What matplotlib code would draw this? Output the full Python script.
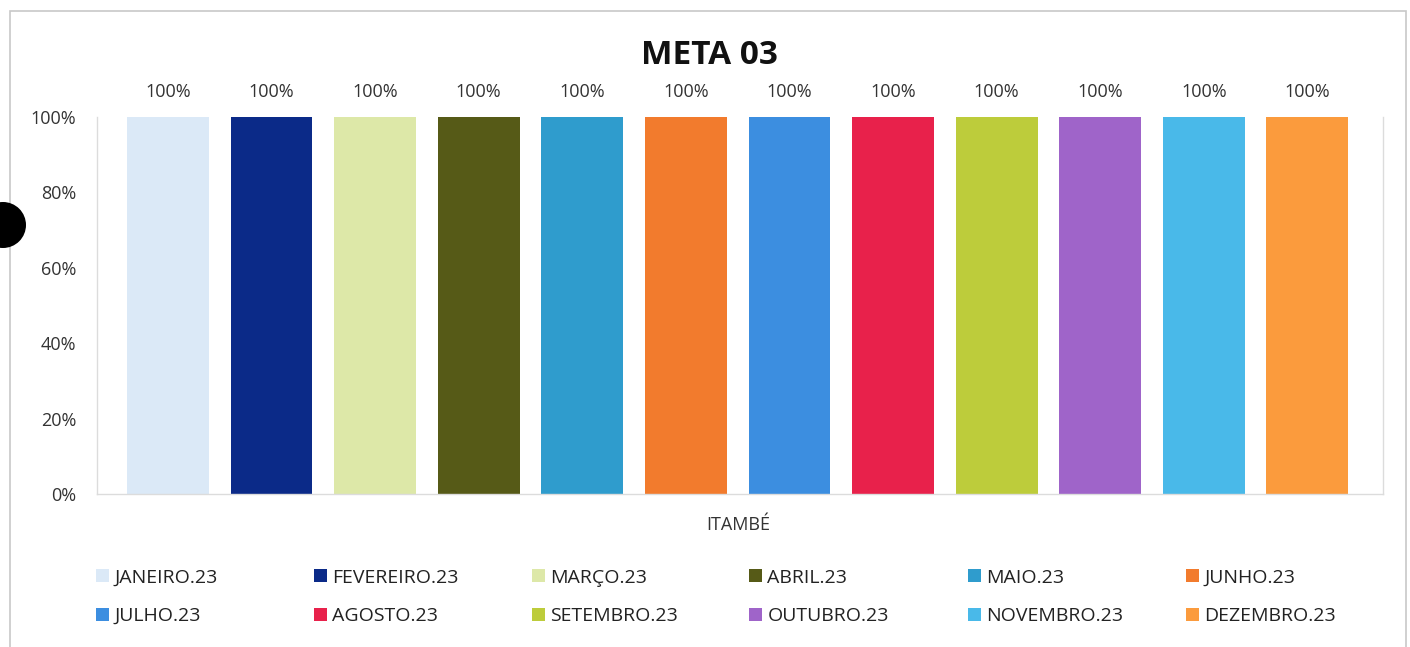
import matplotlib
matplotlib.use("Agg")
import matplotlib.pyplot as plt
from matplotlib.patches import Rectangle, Ellipse, Patch

months = ["JANEIRO.23", "FEVEREIRO.23", "MARÇO.23", "ABRIL.23", "MAIO.23", "JUNHO.23",
          "JULHO.23", "AGOSTO.23", "SETEMBRO.23", "OUTUBRO.23", "NOVEMBRO.23", "DEZEMBRO.23"]
values = [100, 100, 100, 100, 100, 100, 100, 100, 100, 100, 100, 100]
colors = ["#dbe9f7", "#0b2a88", "#dde8a8", "#565a17", "#2f9ccd", "#f27b2d",
          "#3c8ee0", "#e8214b", "#bdcc3b", "#9f64c9", "#49b9e9", "#fb9b3d"]
category = "ITAMBÉ"
title = "META 03"
yticks = [0, 20, 40, 60, 80, 100]

plt.rcParams['font.family'] = ['Open Sans', 'DejaVu Sans']

W, H = 1410, 647
fig = plt.figure(figsize=(W / 100, H / 100), dpi=100)
ax = fig.add_axes([97 / W, 1 - 494 / H, (1383 - 97) / W, (494 - 117) / H])

x = list(range(len(months)))
ax.bar(x, values, width=0.79, color=colors)
for xi, v in zip(x, values):
    ax.annotate(f"{v}%", (xi, v), xytext=(0, 18), textcoords="offset points",
                ha="center", va="center", fontsize=13, color="#333333")

ax.set_xlim(-0.685, 11.73)
ax.set_ylim(0, 100)
ax.set_yticks(yticks)
ax.set_yticklabels([f"{t}%" for t in yticks], fontsize=13, color="#333333")
ax.tick_params(axis="y", length=0, pad=15)
ax.set_xticks([])
for s in ["left", "right", "bottom"]:
    ax.spines[s].set_color("#dcdcdc")
    ax.spines[s].set_linewidth(1)
ax.spines["top"].set_visible(False)

fig.text(709 / W, 1 - 64 / H, title, ha="center", va="baseline", fontsize=24,
         fontweight="bold", color="#111111")
fig.text(738 / W, 1 - 525 / H, category, ha="center", va="center", fontsize=13,
         color="#333333")

# legend: 6 columns of 2 rows (row-major order of months)
col_x = [96, 314, 532, 749, 968, 1186]
ncol = 6
for c in range(ncol):
    idx = [c, c + ncol]
    h = [Patch(facecolor=colors[i], edgecolor="none") for i in idx]
    leg = fig.legend(h, [months[i] for i in idx], loc="center left",
                     bbox_to_anchor=(col_x[c] / W, 1 - 597 / H),
                     frameon=False, fontsize=14, handlelength=0.65, handleheight=0.65,
                     handletextpad=0.3, labelspacing=1.05,
                     borderaxespad=0, borderpad=0)
    for t in leg.get_texts():
        t.set_color("#222222")

fig.patches.append(Rectangle((10 / W, -0.01), (1406 - 10) / W, 1 - 11 / H + 0.01,
                             transform=fig.transFigure, fill=False,
                             edgecolor="#c8c8c8", linewidth=1.2))
fig.patches.append(Ellipse((3 / W, 1 - 225 / H), 46 / W, 46 / H,
                           transform=fig.transFigure, facecolor="black",
                           edgecolor="none"))

fig.savefig("out.png", dpi=100, facecolor="white")
